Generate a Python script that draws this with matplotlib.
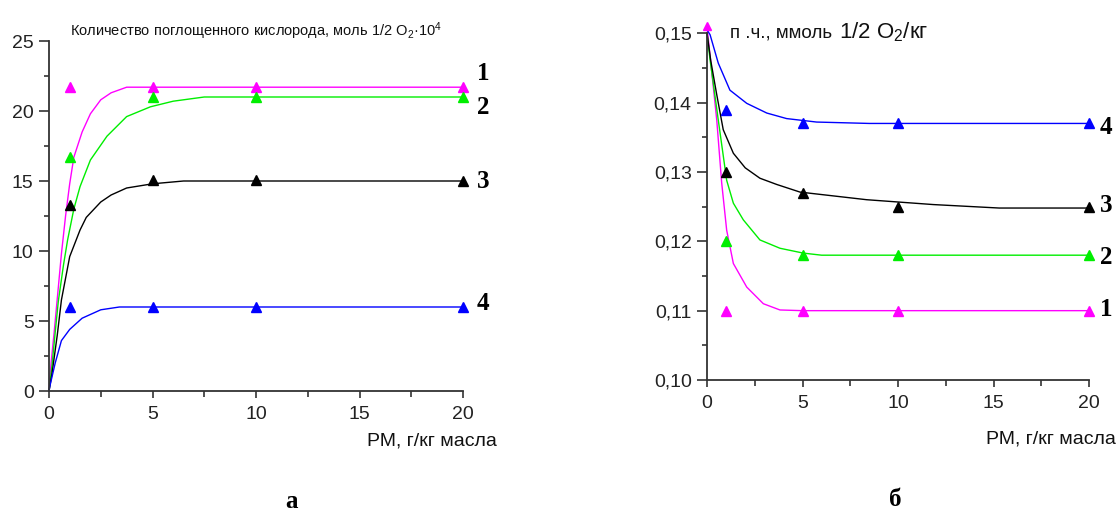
import matplotlib
matplotlib.use('Agg')
import matplotlib.pyplot as plt
import matplotlib.ticker as mticker
import numpy as np

plt.rcParams['font.family'] = ['Liberation Sans', 'DejaVu Sans']
plt.rcParams['mathtext.fontset'] = 'custom'
plt.rcParams['mathtext.rm'] = 'Liberation Sans'
plt.rcParams['mathtext.default'] = 'regular'

W, H = 1118, 511

COLORS = ['#ff00ff', '#00ee00', 'black', '#0000ff']   # series 1..4
LABELS = ['1', '2', '3', '4']

# measured points (x = РМ, g/kg oil)
X_PTS = [1, 5, 10, 20]

# panel a: absorbed oxygen, mol 1/2 O2 * 10^4
A_PTS = [
    [21.7, 21.7, 21.7, 21.7],
    [16.7, 21.0, 21.0, 21.0],
    [13.3, 15.1, 15.1, 15.0],
    [6.0, 6.0, 6.0, 6.0],
]
# fitted curves
A_CURVE_X = [
    [0, 0.1, 0.25, 0.4, 0.6, 0.8, 1.0, 1.2, 1.6, 2.0, 2.5, 3.0, 3.75, 5, 10, 20],
    [0, 0.15, 0.3, 0.45, 0.7, 0.9, 1.2, 1.5, 2.0, 2.8, 3.75, 4.9, 6.0, 7.5, 10, 20],
    [0, 0.15, 0.4, 0.6, 1.0, 1.5, 1.8, 2.5, 3.0, 3.75, 5.0, 6.5, 10, 20],
    [0, 0.05, 0.3, 0.6, 1.0, 1.6, 2.5, 3.4, 5, 10, 20],
]
A_CURVE_Y = [
    [0, 2.0, 4.2, 6.6, 9.8, 12.5, 14.8, 16.7, 18.5, 19.8, 20.8, 21.3, 21.7, 21.7, 21.7, 21.7],
    [0, 1.9, 4.2, 6.4, 9.0, 10.8, 13.0, 14.6, 16.5, 18.2, 19.6, 20.3, 20.7, 21.0, 21.0, 21.0],
    [0, 1.3, 4.0, 6.5, 9.6, 11.5, 12.4, 13.5, 14.0, 14.5, 14.8, 15.0, 15.0, 15.0],
    [0, 0.4, 2.0, 3.6, 4.4, 5.2, 5.8, 6.0, 6.0, 6.0, 6.0],
]

# panel б: peroxide value, mmol 1/2 O2/kg
B_PTS = [
    [0.110, 0.110, 0.110, 0.110],
    [0.120, 0.118, 0.118, 0.118],
    [0.130, 0.127, 0.125, 0.125],
    [0.139, 0.137, 0.137, 0.137],
]
B_CURVE_X = [
    [0, 0.51, 0.77, 1.03, 1.38, 2.08, 2.95, 3.82, 5, 20],
    [0, 0.16, 0.59, 1.03, 1.38, 1.9, 2.77, 3.82, 5.04, 6, 20],
    [0, 0.2, 0.5, 0.85, 1.38, 2.0, 2.77, 3.65, 4.87, 8.36, 11.85, 15.3, 20],
    [0, 0.16, 0.59, 1.2, 2.08, 3.13, 4.17, 5.74, 8.5, 20],
]
B_CURVE_Y = [
    [0.151, 0.1375, 0.1284, 0.1216, 0.1168, 0.1134, 0.111, 0.1101, 0.110, 0.110],
    [0.150, 0.1462, 0.1375, 0.1288, 0.1255, 0.1231, 0.1202, 0.119, 0.1183, 0.118, 0.118],
    [0.150, 0.146, 0.1413, 0.1361, 0.1327, 0.1306, 0.1291, 0.1282, 0.1271, 0.1260, 0.1253, 0.1248, 0.1248],
    [0.1505, 0.1498, 0.1457, 0.1418, 0.1399, 0.1385, 0.1377, 0.1372, 0.137, 0.137],
]
B_START_X = [0]
B_START_Y = [0.151]   # magenta point at x = 0


def px(x, y):
    return x / W, 1 - y / H


def style_axes(ax):
    for s in ['top', 'right']:
        ax.spines[s].set_visible(False)
    for s in ['left', 'bottom']:
        ax.spines[s].set_color('#333333')
        ax.spines[s].set_linewidth(1.3)
    ax.tick_params(which='major', length=7, width=1.2, color='#333333',
                   labelsize=14, labelcolor='#222222')
    ax.tick_params(which='minor', length=3.5, width=1.2, color='#333333')
    ax.tick_params(axis='x', which='major', length=5, pad=6)
    ax.tick_params(axis='x', which='minor', length=4)
    ax.tick_params(axis='y', pad=4)


fig = plt.figure(figsize=(W / 100, H / 100), dpi=100)

# panel a
x0, y0 = px(49, 391)
x1, y1 = px(463, 41)
ax1 = fig.add_axes([x0, y0, x1 - x0, y1 - y0])
for i in range(4):
    ax1.plot(A_CURVE_X[i], A_CURVE_Y[i], color=COLORS[i], lw=1.0, clip_on=False)
    ax1.plot(X_PTS, A_PTS[i], ls='none', marker='^', ms=7.5, color=COLORS[i], clip_on=False)
ax1.set_xlim(0, 20)
ax1.set_ylim(0, 25)
ax1.xaxis.set_major_locator(mticker.MultipleLocator(5))
ax1.xaxis.set_minor_locator(mticker.MultipleLocator(2.5))
ax1.yaxis.set_major_locator(mticker.MultipleLocator(5))
ax1.yaxis.set_minor_locator(mticker.MultipleLocator(2.5))
style_axes(ax1)

# panel б
x0, y0 = px(707, 380)
x1, y1 = px(1089, 33.3)
ax2 = fig.add_axes([x0, y0, x1 - x0, y1 - y0])
for i in range(4):
    ax2.plot(B_CURVE_X[i], B_CURVE_Y[i], color=COLORS[i], lw=1.0, clip_on=False)
    ax2.plot(X_PTS, B_PTS[i], ls='none', marker='^', ms=7.5, color=COLORS[i], clip_on=False)
ax2.plot(B_START_X, B_START_Y, ls='none', marker='^', ms=6, color=COLORS[0], clip_on=False)
ax2.set_xlim(0, 20)
ax2.set_ylim(0.10, 0.15)
ax2.xaxis.set_major_locator(mticker.MultipleLocator(5))
ax2.xaxis.set_minor_locator(mticker.MultipleLocator(2.5))
ax2.yaxis.set_major_locator(mticker.MultipleLocator(0.01))
ax2.yaxis.set_minor_locator(mticker.MultipleLocator(0.005))
ax2.yaxis.set_major_formatter(mticker.FuncFormatter(lambda v, p: f'{v:.2f}'.replace('.', ',')))
style_axes(ax2)

# axis captions
fig.text(*px(70, 36), 'Количество поглощенного кислорода, моль 1/2 O$_2$·10$^4$',
         fontsize=10.5, color='#111111', va='baseline', ha='left')
fig.text(*px(730, 38), 'п .ч., ммоль', fontsize=13.5, color='#111111',
         va='baseline', ha='left')
fig.text(*px(839, 38), '1/2 O$_2$/кг', fontsize=16, color='#111111',
         va='baseline', ha='left')
fig.text(*px(497, 445), 'РМ, г/кг масла', fontsize=14, color='#111111',
         va='baseline', ha='right')
fig.text(*px(1116, 443), 'РМ, г/кг масла', fontsize=14, color='#111111',
         va='baseline', ha='right')

# curve numbers
A_LAB_Y = [73, 108, 181, 303]
B_LAB_Y = [310, 257, 205, 127]
for i in range(4):
    fig.text(*px(483, A_LAB_Y[i]), LABELS[i], fontsize=18, fontweight='bold',
             family='Liberation Serif', ha='center', va='center')
    fig.text(*px(1106, B_LAB_Y[i]), LABELS[i], fontsize=18, fontweight='bold',
             family='Liberation Serif', ha='center', va='center')

# panel letters
fig.text(*px(291, 501), 'а', fontsize=18, fontweight='bold',
         family='Liberation Serif', ha='center', va='center')
fig.text(*px(895, 499), 'б', fontsize=18, fontweight='bold',
         family='Liberation Serif', ha='center', va='center')

fig.savefig('out.png', dpi=100)
